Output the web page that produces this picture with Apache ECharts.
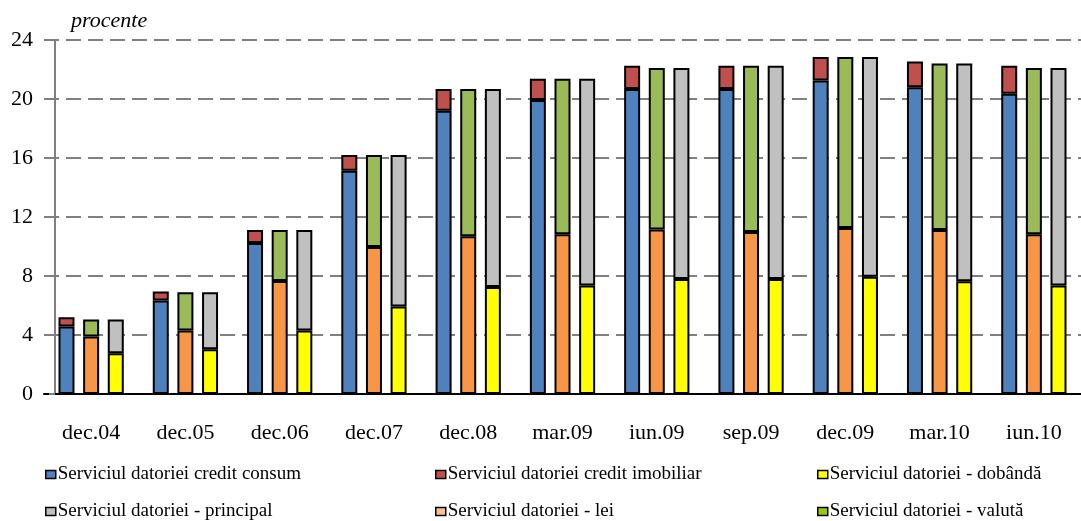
<!DOCTYPE html>
<html>
<head>
<meta charset="utf-8">
<script src="https://cdn.jsdelivr.net/npm/echarts@6/dist/echarts.min.js"></script>
<style>
  html, body { margin: 0; padding: 0; background: #fff; }
  #main { width: 1081px; height: 521px; }
</style>
</head>
<body>
<div id="main"></div>
<script>
const categories = ['dec.04', 'dec.05', 'dec.06', 'dec.07', 'dec.08', 'mar.09', 'iun.09', 'sep.09', 'dec.09', 'mar.10', 'iun.10'];

// primul stoc: pe tip de credit
const creditConsum = [4.58, 6.34, 10.24, 15.13, 19.21, 19.94, 20.67, 20.67, 21.25, 20.80, 20.35];
const creditImobiliar = [0.63, 0.61, 0.88, 1.07, 1.46, 1.43, 1.58, 1.58, 1.59, 1.75, 1.90];
// al doilea: pe moneda
const lei = [3.90, 4.30, 7.66, 9.97, 10.69, 10.83, 11.15, 10.99, 11.26, 11.12, 10.83];
const valuta = [1.15, 2.60, 3.46, 6.23, 9.98, 10.54, 10.96, 11.26, 11.58, 11.29, 11.28];
// al treilea: dobanda / principal
const dobanda = [2.76, 3.03, 4.30, 5.93, 7.25, 7.36, 7.79, 7.79, 7.95, 7.65, 7.36];
const principal = [2.29, 3.87, 6.82, 10.27, 13.42, 14.01, 14.32, 14.46, 14.89, 14.76, 14.75];

const yTicks = [0, 4, 8, 12, 16, 20, 24];

const FONT = '"Liberation Serif", "Times New Roman", serif';

const chart = echarts.init(document.getElementById('main'), null, { renderer: 'canvas' });

function barSeries(name, data, stack, color) {
  return {
    name: name,
    type: 'bar',
    stack: stack,
    data: data,
    barWidth: 16,
    barGap: '54%',
    itemStyle: { color: color, borderColor: '#000', borderWidth: 2 }
  };
}

// o legenda pe fiecare element, asezate pe 3 coloane x 2 randuri
function legendItem(left, top, item) {
  return {
    left: left,
    top: top,
    icon: 'rect',
    itemWidth: 10,
    itemHeight: 8,
    selectedMode: false,
    itemStyle: { borderColor: '#000', borderWidth: 1.5 },
    textStyle: { fontFamily: FONT, fontSize: 19, color: '#000', padding: [0, 0, 0, -3] },
    data: [item]
  };
}

const option = {
  animation: false,
  title: {
    text: 'procente',
    left: 66,
    top: 5,
    textStyle: { fontFamily: FONT, fontSize: 22, fontStyle: 'italic', fontWeight: 'normal', color: '#000' }
  },
  grid: { left: 44, right: -16, top: 40, bottom: 127 },
  legend: [
    legendItem(40, 460, { name: 'Serviciul datoriei credit consum' }),
    legendItem(430, 460, { name: 'Serviciul datoriei credit imobiliar' }),
    legendItem(812, 460, { name: 'Serviciul datoriei - dobândă' }),
    legendItem(40, 497, { name: 'Serviciul datoriei - principal' }),
    legendItem(430, 497, { name: 'Serviciul datoriei - lei', itemStyle: { color: '#FAC090' } }),
    legendItem(812, 497, { name: 'Serviciul datoriei - valută', itemStyle: { color: '#99CC00' } })
  ],
  xAxis: {
    type: 'category',
    data: categories,
    axisLine: { lineStyle: { color: '#000', width: 2 } },
    axisTick: { show: false },
    axisLabel: { fontFamily: FONT, fontSize: 22, color: '#000', margin: 28 }
  },
  yAxis: {
    type: 'value',
    min: yTicks[0],
    max: yTicks[yTicks.length - 1],
    interval: 4,
    offset: -11,
    axisLine: { show: true, lineStyle: { color: '#808080', width: 2 } },
    axisTick: { show: true, length: 6, lineStyle: { color: '#808080', width: 2 } },
    axisLabel: { fontFamily: FONT, fontSize: 22, color: '#000', margin: 22 },
    splitLine: { lineStyle: { color: '#808080', width: 2, type: [15, 7] } }
  },
  series: [
    barSeries('Serviciul datoriei credit consum', creditConsum, 'credit', '#4F81BD'),
    barSeries('Serviciul datoriei credit imobiliar', creditImobiliar, 'credit', '#C0504D'),
    barSeries('Serviciul datoriei - lei', lei, 'moneda', '#F79646'),
    barSeries('Serviciul datoriei - valută', valuta, 'moneda', '#9BBB59'),
    barSeries('Serviciul datoriei - dobândă', dobanda, 'plata', '#FFFF00'),
    barSeries('Serviciul datoriei - principal', principal, 'plata', '#C0C0C0')
  ]
};

chart.setOption(option);
</script>
</body>
</html>
